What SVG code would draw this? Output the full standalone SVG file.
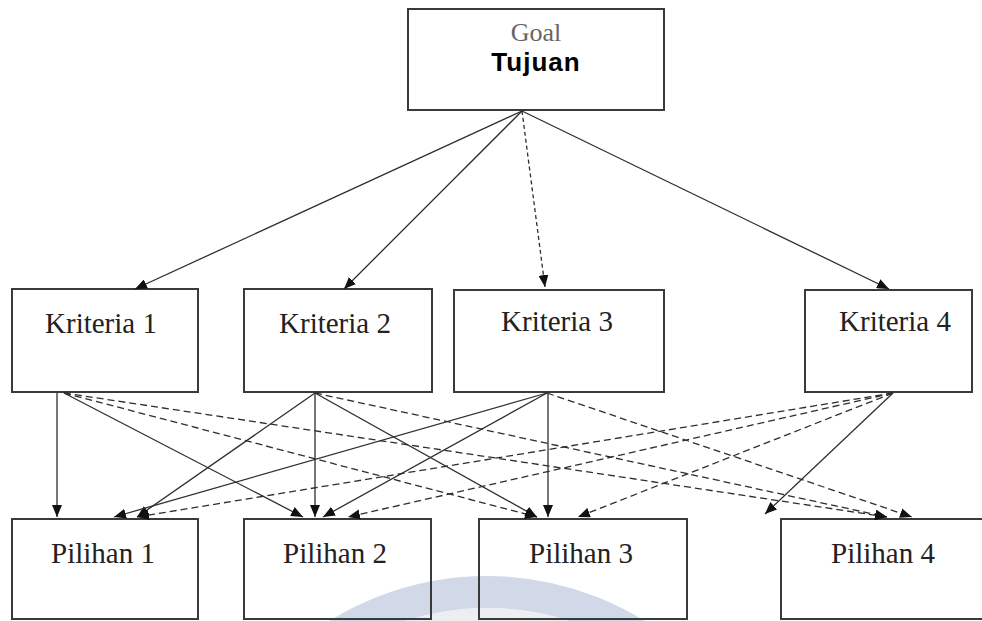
<svg xmlns="http://www.w3.org/2000/svg" width="982" height="621" viewBox="0 0 982 621">
<style>
.box{fill:none;stroke:#3a3a3a;stroke-width:2}
.lbl{font-family:"Liberation Serif","Times New Roman",serif;font-size:29px;fill:#222;text-anchor:middle}
.c{stroke:#2e2e2e;stroke-width:1.3;fill:none;marker-end:url(#ah)}
.d{stroke-dasharray:7 4}
.d2{stroke-dasharray:4 3}
</style>
<defs>
<marker id="ah" markerUnits="userSpaceOnUse" markerWidth="12" markerHeight="10" viewBox="0 0 12 10" refX="12" refY="5" orient="auto">
<path d="M0,0 L12,5 L0,10 z" fill="#111"/>
</marker>
</defs>
<rect width="982" height="621" fill="#ffffff"/>
<g id="watermark" fill="none">
<circle cx="487" cy="875" r="283" stroke="#c9d1e3" stroke-width="32" opacity="0.85"/>
<circle cx="487" cy="875" r="257" stroke="#e9eaee" stroke-width="20" opacity="0.8"/>
</g>
<g id="goal">
<rect class="box" x="408" y="9" width="256" height="101"/>
<text x="536" y="41" style="font-family:'Liberation Serif','Times New Roman',serif;font-size:26px;fill:#666;text-anchor:middle">Goal</text>
<text x="536" y="71" style="font-family:'Liberation Sans',Arial,sans-serif;font-size:26px;font-weight:bold;fill:#000;text-anchor:middle;letter-spacing:1px">Tujuan</text>
</g>
<g id="kriteria1"><rect class="box" x="12" y="289" width="186" height="103"/><text class="lbl" x="101" y="333">Kriteria 1</text></g>
<g id="kriteria2"><rect class="box" x="244" y="289" width="188" height="103"/><text class="lbl" x="335" y="333">Kriteria 2</text></g>
<g id="kriteria3"><rect class="box" x="454" y="290" width="210" height="102"/><text class="lbl" x="557" y="331">Kriteria 3</text></g>
<g id="kriteria4"><rect class="box" x="805" y="290" width="167" height="102"/><text class="lbl" x="895" y="331">Kriteria 4</text></g>
<g id="pilihan1"><rect class="box" x="12" y="519" width="186" height="100"/><text class="lbl" x="103" y="563">Pilihan 1</text></g>
<g id="pilihan2"><rect class="box" x="244" y="519" width="187" height="100"/><text class="lbl" x="335" y="563">Pilihan 2</text></g>
<g id="pilihan3"><rect class="box" x="479" y="519" width="208" height="100"/><text class="lbl" x="581" y="563">Pilihan 3</text></g>
<g id="pilihan4"><rect class="box" x="781" y="519" width="210" height="100"/><text class="lbl" x="883" y="563">Pilihan 4</text></g>
<g id="connectors">
<line class="c" x1="522" y1="111" x2="135" y2="289"/>
<line class="c" x1="522" y1="111" x2="344" y2="289"/>
<line class="c d2" x1="522" y1="111" x2="545" y2="287"/>
<line class="c" x1="522" y1="111" x2="889" y2="289"/>
<line class="c" x1="57" y1="393" x2="57" y2="517"/>
<line class="c" x1="64" y1="393" x2="303" y2="517"/>
<line class="c d" x1="64" y1="393" x2="537" y2="517"/>
<line class="c d" x1="64" y1="393" x2="887" y2="517"/>
<line class="c" x1="315" y1="393" x2="137" y2="517"/>
<line class="c" x1="315" y1="393" x2="315" y2="517"/>
<line class="c" x1="315" y1="393" x2="537" y2="517"/>
<line class="c d" x1="315" y1="393" x2="887" y2="517"/>
<line class="c" x1="547" y1="393" x2="114" y2="517"/>
<line class="c" x1="547" y1="393" x2="323" y2="517"/>
<line class="c" x1="548" y1="393" x2="548" y2="517"/>
<line class="c d" x1="547" y1="393" x2="912" y2="517"/>
<line class="c d" x1="893" y1="393" x2="137" y2="517"/>
<line class="c d" x1="893" y1="393" x2="348" y2="517"/>
<line class="c d" x1="893" y1="393" x2="578" y2="517"/>
<line class="c" x1="893" y1="393" x2="765" y2="514"/>
</g>
</svg>
